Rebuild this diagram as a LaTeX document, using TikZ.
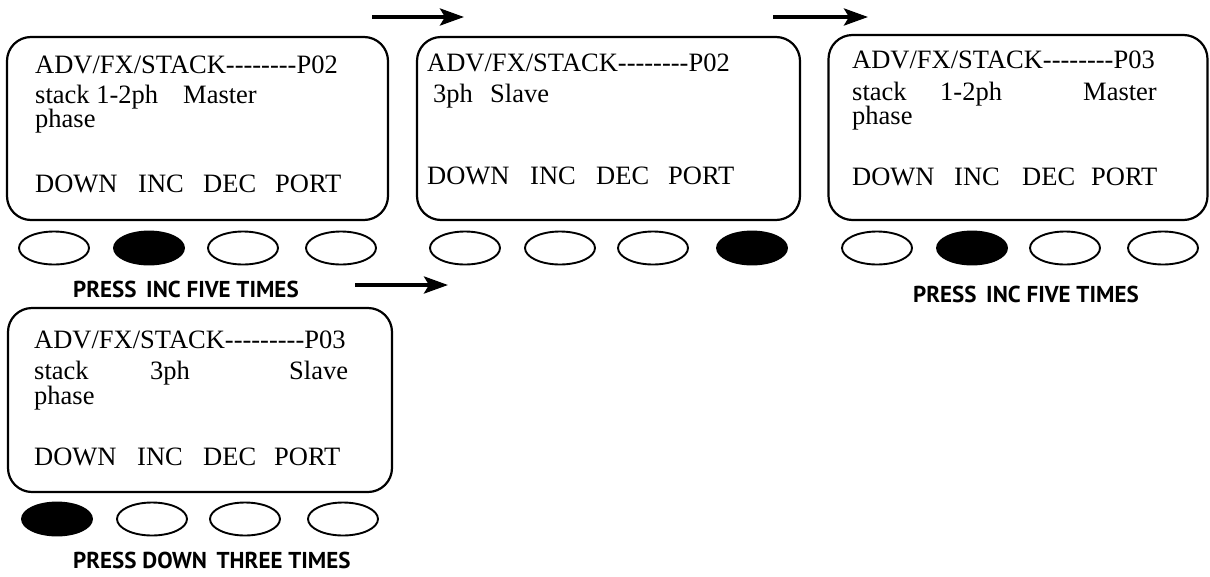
\documentclass[tikz,border=0pt]{standalone}
\usepackage{fontspec}
\setmainfont{Liberation Serif}
\newfontfamily\labfont{PT Sans}
\usetikzlibrary{arrows.meta,shapes.geometric}
\newcommand\hy{-{}}
\begin{document}
\begin{tikzpicture}[x=1pt,y=-1pt,
  screen/.style={draw, line width=2.2pt, rounded corners=24pt, inner sep=0pt},
  btn/.style={draw, ellipse, line width=1.9pt, minimum width=70pt, minimum height=33pt, inner sep=0pt},
  btnon/.style={btn, fill=black},
  txt/.style={anchor=base west, inner sep=0pt, font=\fontsize{26.5}{26}\selectfont},
  lab/.style={anchor=base west, inner sep=0pt, font=\labfont\bfseries\fontsize{23}{23}\selectfont},
  flow/.style={line width=3.8pt, -{Stealth[length=24pt,width=17pt,inset=5pt]}}]
\useasboundingbox (0,0) rectangle (1210,576);

% Panel 1
\node[screen, minimum width=381pt, minimum height=183pt] (s1) at (197.5,128.5) {};
\node[txt] (s1h) at (35,73) {ADV/FX/STACK\hy\hy\hy\hy\hy\hy\hy\hy P02};
\node[txt] (s1a) at (35,103) {stack 1\hy 2ph};
\node[txt] (s1b) at (183,103) {Master};
\node[txt] (s1c) at (35,127) {phase};
\node[txt] (s1d) at (35,192) {DOWN};
\node[txt] (s1e) at (138,192) {INC};
\node[txt] (s1f) at (203,192) {DEC};
\node[txt] (s1g) at (275,192) {PORT};
\node[btn] (b11) at (54,248) {};
\node[btnon] (b12) at (149,248) {};
\node[btn] (b13) at (243,248) {};
\node[btn] (b14) at (341,248) {};
\node[lab] (l1) at (73,297) {PRESS\, INC FIVE TIMES};

% Panel 2
\node[screen, minimum width=383pt, minimum height=183pt] (s2) at (608.5,128.5) {};
\node[txt] (s2h) at (427,71) {ADV/FX/STACK\hy\hy\hy\hy\hy\hy\hy\hy P02};
\node[txt] (s2a) at (433,102) {3ph};
\node[txt] (s2b) at (490,102) {Slave};
\node[txt] (s2d) at (427,184) {DOWN};
\node[txt] (s2e) at (530,184) {INC};
\node[txt] (s2f) at (596,184) {DEC};
\node[txt] (s2g) at (668,184) {PORT};
\node[btn] (b21) at (465,248) {};
\node[btn] (b22) at (560,248) {};
\node[btn] (b23) at (653,248) {};
\node[btnon] (b24) at (752,248) {};

% Panel 3
\node[screen, minimum width=379pt, minimum height=185pt] (s3) at (1018,127.5) {};
\node[txt] (s3h) at (852,68) {ADV/FX/STACK\hy\hy\hy\hy\hy\hy\hy\hy P03};
\node[txt] (s3a) at (852,100) {stack};
\node[txt] (s3b) at (940,100) {1\hy 2ph};
\node[txt] (s3c) at (1083,100) {Master};
\node[txt] (s3p) at (852,124) {phase};
\node[txt] (s3d) at (852,185) {DOWN};
\node[txt] (s3e) at (954,185) {INC};
\node[txt] (s3f) at (1022,185) {DEC};
\node[txt] (s3g) at (1091,185) {PORT};
\node[btn] (b31) at (877,248) {};
\node[btnon] (b32) at (972,248) {};
\node[btn] (b33) at (1065,248) {};
\node[btn] (b34) at (1163,248) {};
\node[lab] (l3) at (913,302) {PRESS\, INC FIVE TIMES};

% Panel 4
\node[screen, minimum width=384pt, minimum height=184pt] (s4) at (200,400) {};
\node[txt] (s4h) at (34,348) {ADV/FX/STACK\hy\hy\hy\hy\hy\hy\hy\hy\hy P03};
\node[txt] (s4a) at (34,379) {stack};
\node[txt] (s4b) at (150,379) {3ph};
\node[txt] (s4c) at (289,379) {Slave};
\node[txt] (s4p) at (34,404) {phase};
\node[txt] (s4d) at (34,465) {DOWN};
\node[txt] (s4e) at (137,465) {INC};
\node[txt] (s4f) at (203,465) {DEC};
\node[txt] (s4g) at (274,465) {PORT};
\node[btnon] (b41) at (57,519) {};
\node[btn] (b42) at (152,519) {};
\node[btn] (b43) at (245,519) {};
\node[btn] (b44) at (343,519) {};
\node[lab] (l4) at (73,568) {PRESS DOWN\, THREE TIMES};

% Arrows
\coordinate (a1s) at (372,17);
\coordinate (a1e) at (464,17);
\coordinate (a2s) at (773,17);
\coordinate (a2e) at (868,17);
\coordinate (a3s) at (355,285);
\coordinate (a3e) at (448,285);
\draw[flow] (a1s) -- (a1e);
\draw[flow] (a2s) -- (a2e);
\draw[flow] (a3s) -- (a3e);
\end{tikzpicture}
\end{document}
